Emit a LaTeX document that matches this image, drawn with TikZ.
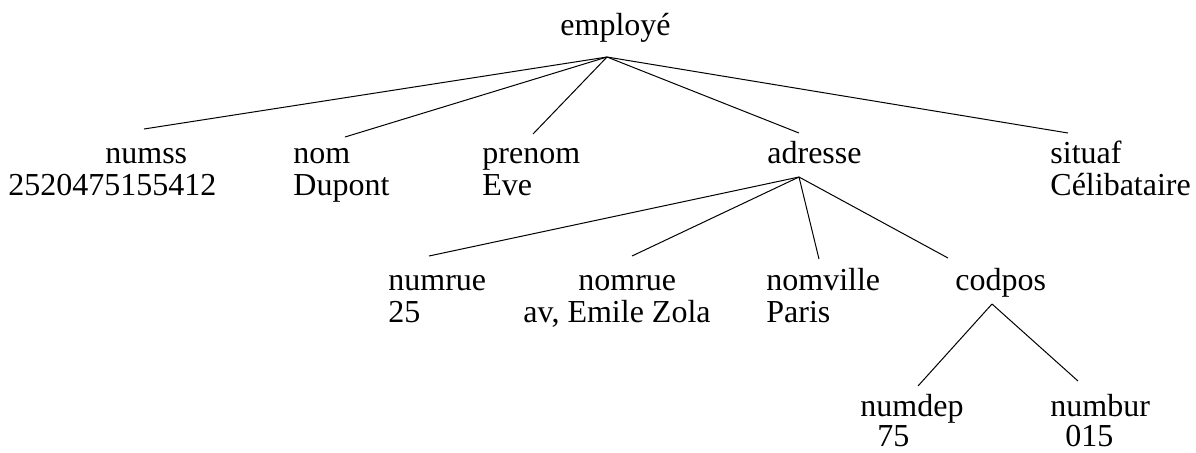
\documentclass[tikz,border=0pt]{standalone}
\usepackage{fontspec}
\setmainfont{Liberation Serif}
\begin{document}
\begin{tikzpicture}[x=0.5pt,y=-0.5pt,
  lbl/.style={anchor=base west,inner sep=0pt,font=\rmfamily\fontsize{16}{19}\selectfont},
  edge/.style={line width=0.5pt,black}]
\useasboundingbox (0,0) rectangle (1196,452);

% root
\node[lbl] (employe) at (560,35) {employé};
% first level
\node[lbl] (numss) at (105,163) {numss};
\node[lbl] (numssv) at (8,195) {2520475155412};
\node[lbl] (nom) at (293,163) {nom};
\node[lbl] (nomv) at (293,195) {Dupont};
\node[lbl] (prenom) at (482,163) {prenom};
\node[lbl] (prenomv) at (482,195) {Eve};
\node[lbl] (adresse) at (767,163) {adresse};
\node[lbl] (situaf) at (1050,163) {situaf};
\node[lbl] (situafv) at (1050,195) {Célibataire};
% second level
\node[lbl] (numrue) at (388,290) {numrue};
\node[lbl] (numruev) at (388,322) {25};
\node[lbl] (nomrue) at (578,290) {nomrue};
\node[lbl] (nomruev) at (523,322) {av, Emile Zola};
\node[lbl] (nomville) at (766,290) {nomville};
\node[lbl] (nomvillev) at (766,322) {Paris};
\node[lbl] (codpos) at (955,290) {codpos};
% third level
\node[lbl] (numdep) at (860,416) {numdep};
\node[lbl] (numdepv) at (877,446) {75};
\node[lbl] (numbur) at (1050,416) {numbur};
\node[lbl] (numburv) at (1065,446) {015};

% branch points
\coordinate (employe-out) at (607,57);
\coordinate (numss-in) at (144,129);
\coordinate (nom-in) at (345,137);
\coordinate (prenom-in) at (533,134);
\coordinate (adresse-in) at (799,133);
\coordinate (situaf-in) at (1068,133);
\coordinate (adresse-out) at (799,177);
\coordinate (numrue-in) at (429,256);
\coordinate (nomrue-in) at (632,256);
\coordinate (nomville-in) at (819,259);
\coordinate (codpos-in) at (948,258);
\coordinate (codpos-out) at (992,304);
\coordinate (numdep-in) at (918,386);
\coordinate (numbur-in) at (1078,381);

% connectors
\foreach \c in {numss,nom,prenom,adresse,situaf}
  \draw[edge] (employe-out) -- (\c-in);
\foreach \c in {numrue,nomrue,nomville,codpos}
  \draw[edge] (adresse-out) -- (\c-in);
\foreach \c in {numdep,numbur}
  \draw[edge] (codpos-out) -- (\c-in);
\end{tikzpicture}
\end{document}
